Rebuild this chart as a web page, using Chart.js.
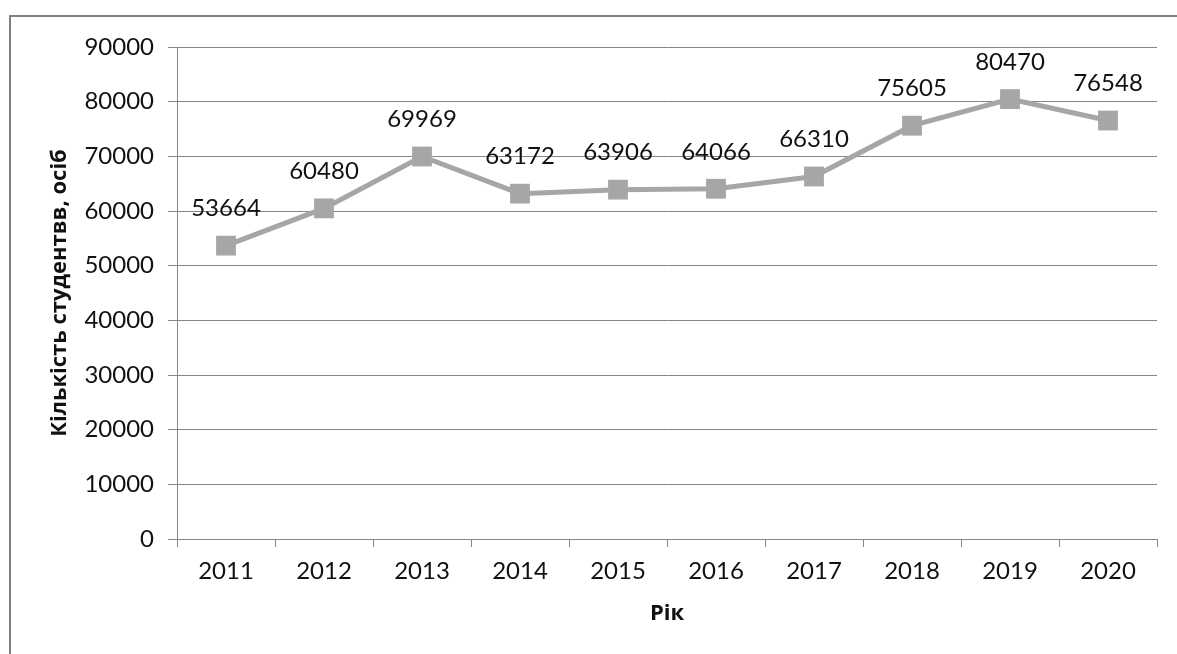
<!DOCTYPE html>
<html><head><meta charset="utf-8">
<script src="https://cdn.jsdelivr.net/npm/chart.js@4.4.1/dist/chart.umd.min.js"></script>
<style>html,body{margin:0;padding:0;background:#fff;overflow:hidden}#wrap{width:1177px;height:654px;position:relative}</style>
</head><body><div id="wrap"><canvas id="c" width="1177" height="654"></canvas></div>
<script>
const years = ['2011','2012','2013','2014','2015','2016','2017','2018','2019','2020'];
const students = [53664, 60480, 69969, 63172, 63906, 64066, 66310, 75605, 80470, 76548];
const yMin = 0;
const yMax = 90000;
const yStep = 10000;
const yTitle = 'Кількість студентвв, осіб';
const xTitle = 'Рік';

const numFont = {family: 'Lato', size: 24};
const titleFont = {family: 'Open Sans', size: 22, weight: 'bold'};
const lineColor = '#a6a6a6';
const gridColor = '#868686';

const framePlugin = {
  id: 'frame',
  beforeDraw(chart) {
    const ctx = chart.ctx;
    ctx.save();
    ctx.fillStyle = '#ffffff';
    ctx.fillRect(0, 0, chart.width, chart.height);
    ctx.strokeStyle = '#808080';
    ctx.lineWidth = 2;
    ctx.strokeRect(10, 16, chart.width + 20, chart.height + 20);
    ctx.restore();
  }
};

const labelPlugin = {
  id: 'valueLabels',
  afterDatasetsDraw(chart) {
    const ctx = chart.ctx;
    const meta = chart.getDatasetMeta(0);
    ctx.save();
    ctx.font = numFont.size + 'px ' + numFont.family;
    ctx.fillStyle = '#111';
    ctx.textAlign = 'center';
    ctx.textBaseline = 'middle';
    meta.data.forEach((pt, i) => {
      ctx.fillText(String(students[i]), pt.x, pt.y - 37);
    });
    ctx.restore();
  }
};

new Chart(document.getElementById('c'), {
  type: 'line',
  data: {
    labels: years,
    datasets: [{
      data: students,
      borderColor: lineColor,
      backgroundColor: lineColor,
      borderWidth: 5,
      pointStyle: 'rect',
      pointRadius: 14,
      pointHoverRadius: 14,
      pointBorderWidth: 0,
      pointBackgroundColor: lineColor,
      tension: 0
    }]
  },
  options: {
    responsive: false,
    animation: false,
    events: [],
    layout: {padding: {left: 0, top: 47, right: 20, bottom: 0}},
    plugins: {legend: {display: false}, tooltip: {enabled: false}},
    scales: {
      x: {
        offset: true,
        grid: {display: true, drawOnChartArea: false, drawTicks: true, tickLength: 8, color: gridColor, offset: true},
        border: {display: true, color: gridColor, width: 1},
        ticks: {font: numFont, color: '#111', padding: 10, maxRotation: 0, autoSkip: false},
        title: {display: true, text: xTitle, font: titleFont, color: '#111', padding: {top: 0, bottom: 27}},
        afterFit(s) { s.height = 115; }
      },
      y: {
        min: yMin, max: yMax,
        grid: {color: gridColor, tickLength: 9, drawTicks: true},
        border: {display: true, color: gridColor, width: 1},
        ticks: {stepSize: yStep, font: numFont, color: '#111', padding: 14, callback: v => String(v)},
        title: {display: true, text: yTitle, font: titleFont, color: '#111', padding: {top: 47, bottom: 0}},
        afterFit(s) { s.width = 177; }
      }
    }
  },
  plugins: [framePlugin, labelPlugin]
});
</script></body></html>
